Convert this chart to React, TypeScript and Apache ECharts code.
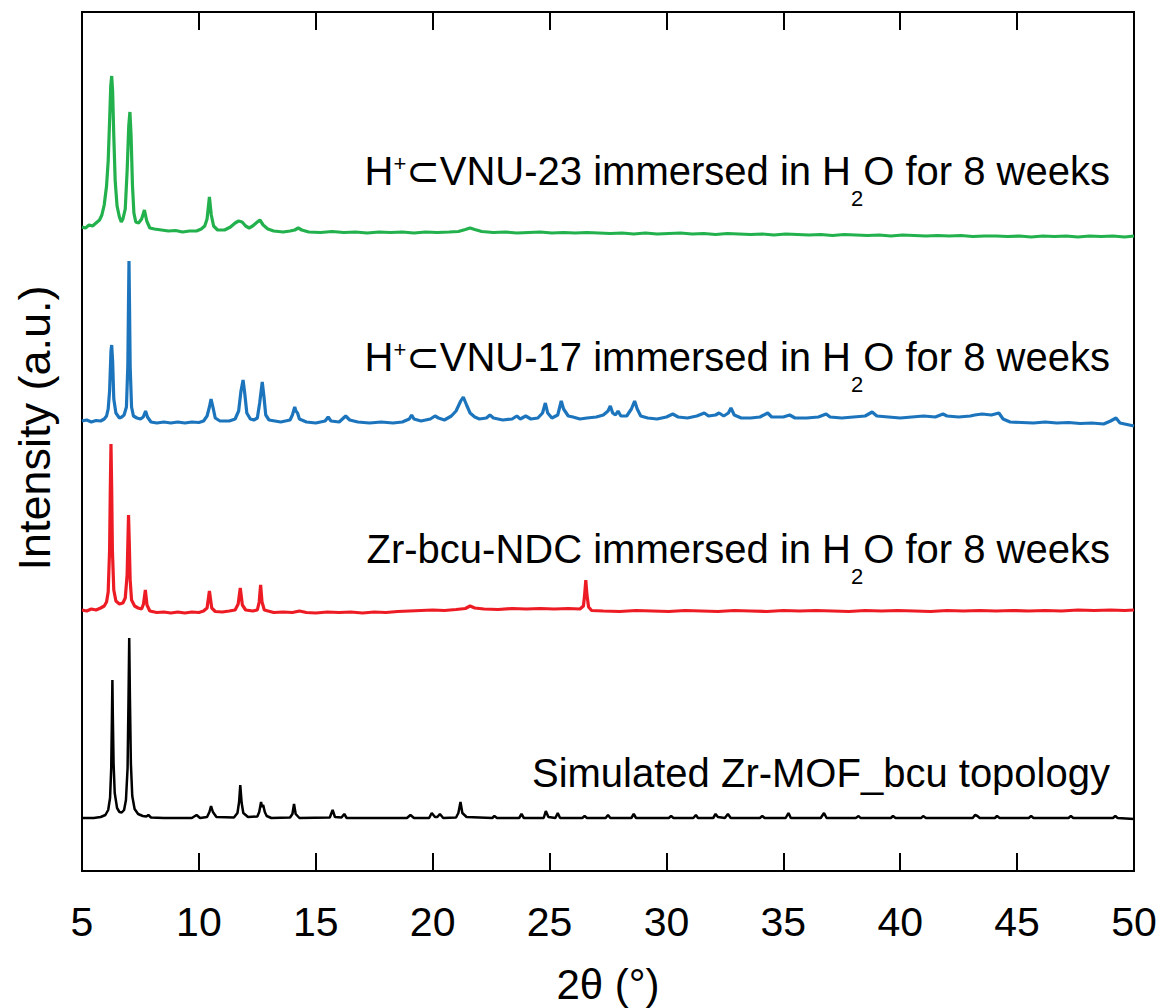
import { useEffect, useRef } from "react";
import * as echarts from "echarts";

// 2θ axis range and tick spacing (degrees)
const twoThetaMin = 5;
const twoThetaMax = 50;
const twoThetaStep = 5;

// Vertical stacking offsets (a.u.) for each pattern
const offsetSimulated = 53;
const offsetNdc = 261;
const offsetVnu17 = 450;
const offsetVnu23 = 640;

// Simulated Zr-MOF_bcu topology: [2θ, intensity]
const simulatedBcu: [number, number][] = [
  [5.0, 0], [5.5, 0], [5.8, 1], [6.0, 3], [6.12, 8], [6.2, 20], [6.25, 50], [6.28, 100], [6.3, 138],
  [6.32, 100], [6.35, 55], [6.4, 25], [6.5, 10], [6.6, 6], [6.7, 5.5], [6.8, 8], [6.88, 18], [6.95, 50],
  [6.99, 120], [7.02, 180], [7.05, 120], [7.09, 55], [7.15, 22], [7.25, 9], [7.4, 4], [7.6, 2],
  [7.75, 1.5], [7.84, 3], [7.95, 0.5], [8.5, 0], [9.7, 0], [9.9, 3], [10.05, 0], [10.35, 1], [10.45, 6],
  [10.52, 12], [10.6, 6], [10.75, 1], [11.5, 0.5], [11.65, 5], [11.72, 16], [11.77, 33], [11.83, 15],
  [11.9, 5], [12.1, 1], [12.5, 1.5], [12.58, 6], [12.66, 16], [12.7, 11], [12.75, 13], [12.82, 6],
  [12.9, 2], [13.1, 0], [13.9, 0.5], [14.0, 4], [14.07, 14], [14.14, 4], [14.3, 0], [15.6, 0.5],
  [15.72, 8], [15.82, 1], [16.1, 0.5], [16.22, 4], [16.32, 0], [18.9, 0], [19.05, 3], [19.2, 0],
  [19.85, 0], [19.96, 5], [20.1, 1], [20.2, 1], [20.31, 4], [20.45, 0], [21.0, 0.5], [21.1, 5],
  [21.19, 16], [21.27, 5], [21.45, 1], [22.55, 0], [22.64, 2], [22.75, 0], [23.7, 0], [23.8, 4],
  [23.9, 0], [24.75, 0], [24.84, 7], [24.95, 1], [25.25, 0], [25.35, 5], [25.45, 0], [26.4, 0],
  [26.5, 2], [26.6, 0], [27.4, 0], [27.5, 3], [27.6, 0], [28.5, 0], [28.6, 4], [28.7, 0], [30.1, 0],
  [30.2, 2], [30.3, 0], [31.15, 0], [31.26, 3], [31.35, 0], [32.0, 0], [32.1, 4], [32.2, 1], [32.5, 0],
  [32.63, 4], [32.75, 0], [34.0, 0], [34.1, 2], [34.2, 0], [35.1, 0], [35.22, 5], [35.32, 0], [36.6, 0],
  [36.74, 5], [36.85, 0], [38.1, 0], [38.22, 2], [38.3, 0], [39.6, 0], [39.69, 2], [39.8, 0], [40.9, 0],
  [40.98, 2], [41.1, 0], [43.1, 0], [43.2, 3], [43.3, 2], [43.4, 0], [44.05, 0], [44.14, 2], [44.25, 0],
  [45.5, 0], [45.6, 2], [45.7, 0], [47.2, 0], [47.3, 2], [47.4, 0], [49.1, 0], [49.2, 2], [49.3, 0],
  [50.0, -1],
];

// Zr-bcu-NDC immersed in H2O for 8 weeks
const zrBcuNdc: [number, number][] = [
  [5.0, 0], [5.2, -1], [5.4, 1], [5.6, 0], [5.8, 2], [5.95, 4], [6.05, 8], [6.12, 18], [6.18, 60],
  [6.21, 120], [6.24, 166], [6.27, 120], [6.3, 60], [6.36, 20], [6.45, 9], [6.6, 6], [6.75, 7],
  [6.85, 12], [6.93, 35], [6.97, 75], [6.99, 95], [7.02, 70], [7.06, 30], [7.12, 10], [7.25, 4],
  [7.4, 2], [7.55, 1], [7.63, 6], [7.71, 20], [7.78, 5], [7.9, -1], [8.2, -2.5], [8.5, -2], [8.8, -3],
  [9.1, -2], [9.4, -3], [9.7, -2], [10.0, -2.5], [10.2, -1], [10.35, 2], [10.45, 19], [10.55, 2],
  [10.7, -1.5], [11.0, -2], [11.3, -1], [11.55, 0], [11.68, 6], [11.77, 22], [11.86, 5], [12.0, 0],
  [12.3, -1], [12.5, 0], [12.58, 8], [12.64, 25], [12.7, 8], [12.8, 0], [13.2, -2.5], [13.6, -2],
  [14.0, -2.5], [14.3, -1], [14.6, -2.5], [15.0, -3], [15.5, -2], [16.0, -2.5], [16.5, -2], [17.0, -3],
  [17.5, -2], [18.0, -2.5], [18.5, -1.5], [19.0, -1], [19.5, -0.5], [20.0, 0], [20.5, -0.5], [21.0, 0.5],
  [21.4, 1.5], [21.6, 4], [21.8, 2], [22.2, 1], [22.8, 0.5], [23.4, 1.5], [24.0, 1], [24.6, 1.5],
  [25.2, 1], [25.8, 1.5], [26.3, 1], [26.45, 4], [26.5, 15], [26.55, 30], [26.6, 15], [26.67, 3],
  [26.8, -0.5], [27.3, -1], [28.0, -1.5], [28.7, -0.5], [29.4, -1], [30.1, -1.5], [30.8, -0.5],
  [31.5, -1], [32.2, -1.5], [32.9, -0.5], [33.6, -1], [34.3, -1.5], [35.0, -0.5], [35.7, -1],
  [36.4, -0.5], [37.1, -1], [37.8, -1.5], [38.5, -0.5], [39.2, -1], [39.9, -0.5], [40.6, -1],
  [41.3, -1.5], [42.0, -0.5], [42.7, -1], [43.4, -0.5], [44.1, -1], [44.8, -0.5], [45.5, -1],
  [46.2, -0.5], [46.9, -1], [47.6, 0], [48.3, -0.5], [49.0, 0], [49.6, -0.5], [50.0, 0],
];

// H+⊂VNU-17 immersed in H2O for 8 weeks
const vnu17: [number, number][] = [
  [5.0, 0], [5.2, 1], [5.4, -1], [5.6, 0.5], [5.8, 0], [5.95, 2], [6.05, 5], [6.12, 12], [6.18, 30],
  [6.24, 70], [6.27, 76], [6.31, 60], [6.36, 22], [6.45, 8], [6.6, 3], [6.7, 4], [6.8, 6], [6.9, 14],
  [6.96, 55], [6.99, 120], [7.01, 160], [7.03, 120], [7.06, 55], [7.12, 14], [7.2, 5], [7.35, 3],
  [7.5, 2], [7.62, 4], [7.72, 10], [7.8, 4], [7.95, -1], [8.2, -2], [8.5, -1], [8.8, -2], [9.1, -1],
  [9.4, -2], [9.7, -1], [10.0, -1.5], [10.2, 0], [10.35, 5], [10.45, 14], [10.52, 22], [10.6, 14],
  [10.7, 3], [10.9, 0], [11.3, 0], [11.55, 2], [11.7, 10], [11.8, 30], [11.89, 41], [11.96, 28],
  [12.05, 8], [12.2, 2], [12.35, 1], [12.5, 3], [12.6, 18], [12.71, 39], [12.78, 25], [12.86, 6],
  [13.0, 1], [13.5, -1], [13.9, 1], [14.0, 6], [14.1, 14], [14.15, 10], [14.22, 8], [14.3, 2],
  [14.6, -1], [15.0, -2], [15.4, 0], [15.53, 4], [15.65, 0], [16.0, -1], [16.28, 5], [16.45, 1],
  [16.8, -1], [17.3, -2], [17.8, -1], [18.3, -2], [18.7, -1], [19.0, 2], [19.1, 6], [19.2, 2],
  [19.5, 0], [19.9, 2], [20.1, 5], [20.25, 3], [20.5, 1], [20.8, 5], [21.0, 10], [21.2, 20],
  [21.31, 24], [21.45, 16], [21.6, 8], [21.8, 4], [22.0, 2], [22.3, 3], [22.45, 6], [22.6, 3],
  [23.0, 1], [23.4, 2], [23.6, 5], [23.75, 2], [23.98, 5], [24.2, 2], [24.5, 3], [24.7, 8], [24.82, 18],
  [24.92, 8], [25.1, 3], [25.35, 6], [25.5, 20], [25.6, 12], [25.8, 5], [26.0, 4], [26.3, 2], [26.6, 3],
  [27.0, 4], [27.3, 6], [27.5, 10], [27.6, 15], [27.7, 8], [27.82, 6], [27.93, 10], [28.05, 5],
  [28.3, 5], [28.5, 12], [28.64, 20], [28.75, 12], [28.9, 5], [29.2, 3], [29.6, 2], [30.0, 4],
  [30.27, 7], [30.5, 4], [30.9, 3], [31.3, 5], [31.62, 8], [31.8, 5], [32.1, 6], [32.25, 8],
  [32.45, 5], [32.65, 8], [32.76, 13], [32.9, 6], [33.2, 3], [33.6, 3], [34.0, 4], [34.33, 8],
  [34.5, 4], [35.0, 4], [35.27, 6], [35.5, 3], [36.0, 3], [36.5, 4], [36.83, 7], [37.0, 4], [37.5, 3],
  [38.0, 4], [38.5, 5], [38.8, 9], [39.0, 5], [39.5, 4], [40.0, 3], [40.5, 4], [41.0, 5], [41.5, 4],
  [41.83, 7], [42.0, 5], [42.5, 4], [43.0, 5], [43.19, 6], [43.5, 7], [43.9, 6], [44.22, 8],
  [44.4, 2], [44.7, -1], [45.2, -1.5], [45.7, -2], [46.2, -1], [46.7, -2], [47.2, -1.5], [47.7, -2.5],
  [48.2, -2], [48.7, -3], [49.0, 0], [49.23, 3], [49.4, -2], [49.8, -4], [50.0, -5],
];

// H+⊂VNU-23 immersed in H2O for 8 weeks
const vnu23: [number, number][] = [
  [5.0, 4], [5.15, 3], [5.3, 6], [5.45, 5], [5.6, 8], [5.75, 11], [5.85, 16], [5.95, 26], [6.05, 45],
  [6.12, 70], [6.18, 110], [6.23, 145], [6.27, 155], [6.31, 140], [6.36, 95], [6.42, 50], [6.5, 25],
  [6.6, 14], [6.68, 9], [6.75, 12], [6.85, 22], [6.93, 60], [7.0, 105], [7.05, 119], [7.1, 95],
  [7.16, 45], [7.22, 18], [7.3, 9], [7.42, 8], [7.55, 12], [7.67, 21], [7.77, 10], [7.9, 3], [8.1, 2],
  [8.4, 1], [8.7, 0], [9.0, 0.5], [9.3, -1], [9.6, 0], [9.9, 0], [10.1, 2], [10.25, 5], [10.35, 12],
  [10.45, 34], [10.53, 16], [10.63, 5], [10.8, 1], [11.1, 1], [11.35, 4], [11.55, 8], [11.7, 10],
  [11.85, 9], [12.0, 5], [12.15, 3], [12.3, 5], [12.5, 9], [12.61, 11], [12.75, 6], [12.95, 2],
  [13.2, 0], [13.6, -1], [13.9, 0], [14.1, 1], [14.25, 3], [14.4, 1], [14.7, -1], [15.2, -1.5],
  [15.7, -0.5], [16.2, -1.5], [16.7, -1], [17.2, -2], [17.7, -1], [18.2, -1.5], [18.7, -1], [19.2, -2],
  [19.7, -1], [20.2, -1.5], [20.7, -1], [21.1, -0.5], [21.4, 1.5], [21.6, 3], [21.8, 1.5], [22.1, -0.5],
  [22.6, -1.5], [23.1, -1], [23.6, -2], [24.1, -1.5], [24.6, -1], [25.1, -2], [25.6, -1.5], [26.1, -2],
  [26.6, -1.5], [27.1, -2], [27.6, -2.5], [28.1, -2], [28.6, -3], [29.1, -2], [29.6, -3], [30.1, -2.5],
  [30.6, -2], [31.1, -3], [31.6, -2.5], [32.1, -3.5], [32.6, -2.5], [33.1, -3], [33.6, -3.5], [34.1, -3],
  [34.6, -4], [35.1, -3], [35.6, -3.5], [36.1, -4], [36.6, -3.5], [37.1, -4.5], [37.6, -3.5], [38.1, -4],
  [38.6, -4.5], [39.1, -4], [39.6, -5], [40.1, -4], [40.6, -4.5], [41.1, -5], [41.6, -4.5], [42.1, -5],
  [42.6, -4.5], [43.1, -5.5], [43.6, -5], [44.1, -5], [44.6, -5.5], [45.1, -5], [45.6, -6], [46.1, -5],
  [46.6, -5.5], [47.1, -5], [47.6, -6], [48.1, -5], [48.6, -5.5], [49.1, -5], [49.6, -6], [50.0, -5],
];

const FONT = "'Liberation Sans', Arial, Helvetica, 'DejaVu Sans', sans-serif";

const stack = (pattern: [number, number][], offset: number) =>
  pattern.map(([t, i]) => [t, offset + i]);

// Rich-text styles: normal run, superscript charge, subscript count
const labelRich = {
  a: { fontSize: 40, lineHeight: 80, fontFamily: FONT, color: "#000" },
  sup: { fontSize: 22, fontFamily: FONT, color: "#000", verticalAlign: "top", height: 64 },
  sub: { fontSize: 22, fontFamily: FONT, color: "#000", verticalAlign: "bottom", height: 26 },
};

const patternLabel = (text: string, y: number) => ({
  type: "text",
  x: 1110,
  y,
  style: {
    text,
    rich: labelRich,
    align: "right",
    verticalAlign: "middle",
    fill: "#000",
  },
});

export default function App() {
  const ref = useRef<HTMLDivElement>(null);

  useEffect(() => {
    if (!ref.current) return;
    const chart = echarts.init(ref.current, null, { renderer: "svg" });
    chart.setOption({
      animation: false,
      backgroundColor: "#fff",
      grid: {
        left: 82,
        right: 26,
        top: 12,
        bottom: 137,
        show: true,
        borderColor: "#000",
        borderWidth: 2,
      },
      xAxis: [
        {
          type: "value",
          min: twoThetaMin,
          max: twoThetaMax,
          interval: twoThetaStep,
          position: "bottom",
          axisLine: { show: true, lineStyle: { color: "#000", width: 2 } },
          axisTick: { show: true, inside: true, length: 18, lineStyle: { color: "#000", width: 2 } },
          axisLabel: { color: "#000", fontSize: 41, fontFamily: FONT, margin: 30 },
          splitLine: { show: false },
        },
        {
          type: "value",
          min: twoThetaMin,
          max: twoThetaMax,
          interval: twoThetaStep,
          position: "top",
          axisLine: { show: true, lineStyle: { color: "#000", width: 2 } },
          axisTick: { show: true, inside: true, length: 18, lineStyle: { color: "#000", width: 2 } },
          axisLabel: { show: false },
          splitLine: { show: false },
        },
      ],
      yAxis: {
        type: "value",
        min: 0,
        max: 859,
        show: false,
        splitLine: { show: false },
      },
      series: [
        {
          name: "Simulated Zr-MOF_bcu topology",
          type: "line",
          data: stack(simulatedBcu, offsetSimulated),
          showSymbol: false,
          lineStyle: { color: "#000000", width: 2.5 },
        },
        {
          name: "Zr-bcu-NDC immersed in H2O for 8 weeks",
          type: "line",
          data: stack(zrBcuNdc, offsetNdc),
          showSymbol: false,
          lineStyle: { color: "#ed1c24", width: 3.2 },
        },
        {
          name: "H+⊂VNU-17 immersed in H2O for 8 weeks",
          type: "line",
          data: stack(vnu17, offsetVnu17),
          showSymbol: false,
          lineStyle: { color: "#1c75bc", width: 3.2 },
        },
        {
          name: "H+⊂VNU-23 immersed in H2O for 8 weeks",
          type: "line",
          data: stack(vnu23, offsetVnu23),
          showSymbol: false,
          lineStyle: { color: "#22b14c", width: 3.2 },
        },
      ],
      graphic: [
        patternLabel("{a|H}{sup|+}{a|⊂VNU-23 immersed in H}{sub|2}{a|O for 8 weeks}", 171),
        patternLabel("{a|H}{sup|+}{a|⊂VNU-17 immersed in H}{sub|2}{a|O for 8 weeks}", 357),
        patternLabel("{a|Zr-bcu-NDC immersed in H}{sub|2}{a|O for 8 weeks}", 549),
        patternLabel("{a|Simulated Zr-MOF_bcu topology}", 773),
        {
          type: "text",
          x: 34,
          y: 428,
          rotation: Math.PI / 2,
          style: {
            text: "Intensity (a.u.)",
            fontSize: 45,
            fontFamily: FONT,
            fill: "#000",
            align: "center",
            verticalAlign: "middle",
          },
        },
        {
          type: "text",
          x: 608,
          y: 984,
          style: {
            text: "2θ (°)",
            fontSize: 42,
            fontFamily: FONT,
            fill: "#000",
            align: "center",
            verticalAlign: "middle",
          },
        },
      ],
    });
    return () => chart.dispose();
  }, []);

  return (
    <div
      ref={ref}
      style={{ position: "fixed", left: 0, top: 0, width: 1160, height: 1008, background: "#fff" }}
    />
  );
}
